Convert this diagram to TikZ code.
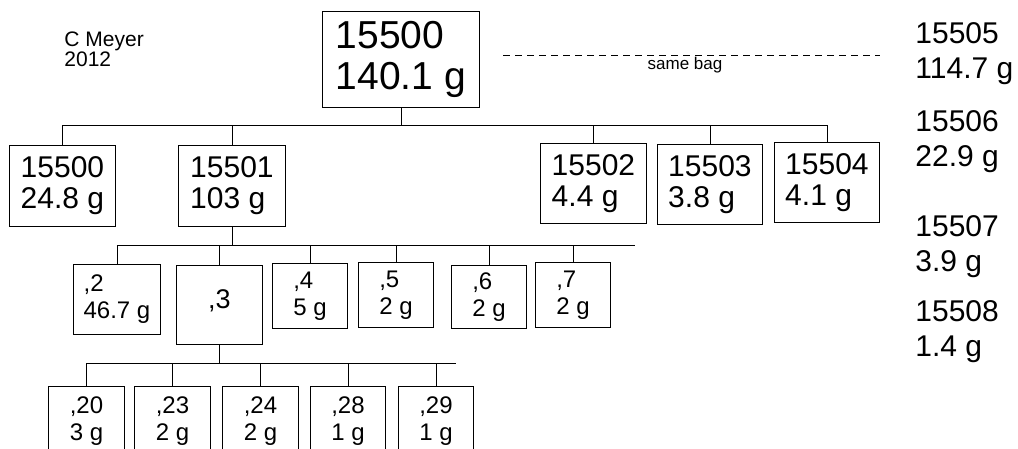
\documentclass[tikz,border=0pt]{standalone}
\usepackage{fontspec}
\setmainfont{Liberation Sans}

\tikzset{
    box/.style={draw, line width=0.9pt, align=left, inner sep=0pt, anchor=north west},
    bigbox/.style={box, font=\fontsize{39}{41}\selectfont},
    midbox/.style={box, font=\fontsize{30}{31}\selectfont, minimum width=106pt, minimum height=81pt},
    smallbox/.style={box, font=\fontsize{24}{27}\selectfont, minimum width=75pt, minimum height=65pt},
    sidelabel/.style={align=left, inner sep=0pt, anchor=north west, font=\fontsize{30}{35}\selectfont},
}

\begin{document}
\begin{tikzpicture}[x=1pt, y=-1pt, line width=0.9pt]
        \useasboundingbox (0,0) rectangle (1018,449);

        \node[sidelabel, font=\fontsize{21}{17}\selectfont] (author) at (64,31) {C Meyer\\2012};

        % whole bag and its split
        \node[bigbox, minimum width=157pt, minimum height=96pt] (top) at (322,11) {15500\\140.1 g};

        \node[midbox] (b0) at (9,145) {15500\\24.8 g};
        \node[midbox, minimum width=107pt] (b1) at (178,145) {15501\\103 g};
        \node[midbox, minimum height=80pt] (b2) at (540,143) {15502\\4.4 g};
        \node[midbox, minimum width=105pt, minimum height=80pt] (b3) at (657,144) {15503\\3.8 g};
        \node[midbox, minimum width=105pt, minimum height=80pt] (b4) at (774,142) {15504\\4.1 g};

        \coordinate (row1) at (0,125);
        \draw (b0.north |- row1) -- (b4.north |- row1);
        \draw (top.south) -- (top.south |- row1);
        \foreach \n in {b0,b1,b2,b3,b4}
            \draw (\n.north) -- (\n.north |- row1);

        % parts of 15501
        \node[smallbox, minimum width=87pt, minimum height=70pt] (s2) at (73,264) {,2\\46.7 g};
        \node[smallbox, minimum width=86pt, minimum height=79pt, font=\fontsize{27}{29}\selectfont, text depth=12pt] (s3) at (176,265) {,3};
        \node[smallbox] (s4) at (272,263) {,4\\5 g};
        \node[smallbox] (s5) at (358,262) {,5\\2 g};
        \node[smallbox, minimum height=63pt] (s6) at (451,265) {,6\\2 g};
        \node[smallbox] (s7) at (535,262) {,7\\2 g};

        \coordinate (row2) at (0,245);
        \coordinate (row2end) at (635,245);
        \draw (s2.north |- row2) -- (row2end);
        \draw (b1.south) -- (b1.south |- row2);
        \foreach \n in {s2,s3,s4,s5,s6,s7}
            \draw (\n.north) -- (\n.north |- row2);

        % parts of ,3
        \node[smallbox, minimum width=76pt, minimum height=70pt] (t20) at (48,386) {,20\\3 g};
        \node[smallbox, minimum width=76pt, minimum height=70pt] (t23) at (134,386) {,23\\2 g};
        \node[smallbox, minimum width=76pt, minimum height=70pt] (t24) at (222,386) {,24\\2 g};
        \node[smallbox, minimum width=75pt, minimum height=70pt] (t28) at (310,386) {,28\\1 g};
        \node[smallbox, minimum width=75pt, minimum height=70pt] (t29) at (398,386) {,29\\1 g};

        \coordinate (row3) at (0,363);
        \coordinate (row3end) at (456,363);
        \draw (t20.north |- row3) -- (row3end);
        \draw (s3.south) -- (s3.south |- row3);
        \foreach \n in {t20,t23,t24,t28,t29}
            \draw (\n.north) -- (\n.north |- row3);

        % other bags
        \coordinate (dashstart) at (503,55);
        \coordinate (dashend) at (880,55);
        \draw[dash pattern=on 7pt off 5pt, line width=0.7pt] (dashstart) -- (dashend);
        \node[font=\fontsize{17}{19}\selectfont, anchor=north, inner sep=0pt] (samebag) at (685,57) {same bag};

        \node[sidelabel] (r5) at (915,22) {15505\\114.7 g};
        \node[sidelabel] (r6) at (915,110) {15506\\22.9 g};
        \node[sidelabel] (r7) at (915,215) {15507\\3.9 g};
        \node[sidelabel] (r8) at (915,300) {15508\\1.4 g};
    \end{tikzpicture}
\end{document}
